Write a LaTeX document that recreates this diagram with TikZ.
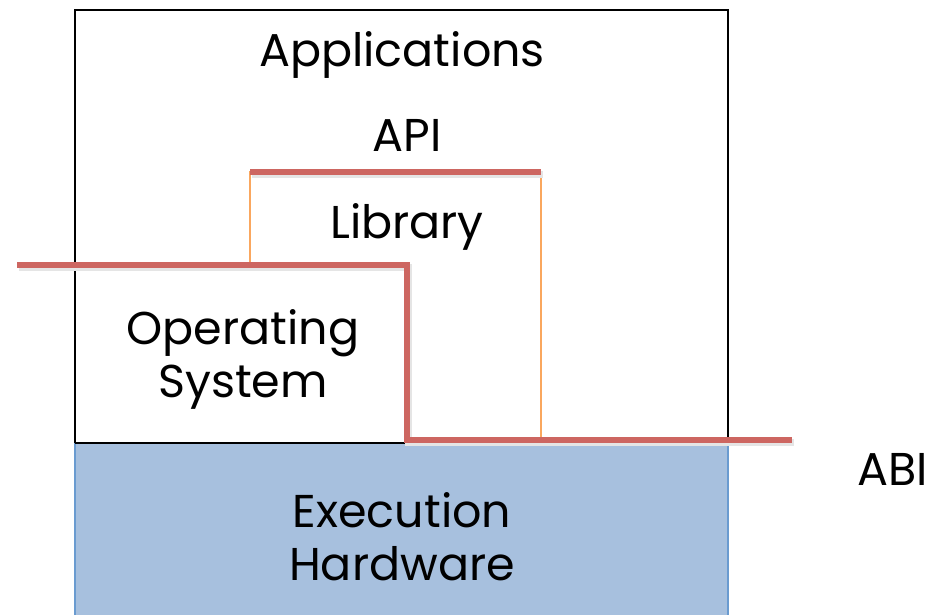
\documentclass[tikz,border=0pt]{standalone}
\usepackage{fontspec}
\setmainfont{Poppins}
\begin{document}
\begin{tikzpicture}[x=1pt,y=-1pt,
  lbl/.style={font=\fontsize{46}{53}\selectfont, align=center, inner sep=0pt, text=black},
  redline/.style={draw=redc, line width=6.5pt},
  shadowline/.style={draw=black!10, line width=7pt},
  libline/.style={draw=orangec, line width=1.6pt}]
\definecolor{redc}{HTML}{CD6661}
\definecolor{orangec}{HTML}{FAA75E}
\definecolor{bluefill}{HTML}{A7C0DE}
\definecolor{blueedge}{HTML}{6A9BD0}
\useasboundingbox (0,0) rectangle (929,614);
% hardware layer
\fill[bluefill] (75,443) rectangle (728,616);
\draw[blueedge, line width=1.4pt] (75,443) -- (75,616);
\draw[blueedge, line width=1.4pt] (728,443) -- (728,616);
% software frame
\draw[black, line width=2pt] (75,443) -- (75,10) -- (728,10) -- (728,443);
\draw[black, line width=2pt] (75,443) -- (407,443);
% library outline
\draw[libline] (250,172) -- (541,172) -- (541,438) -- (410,438) -- (410,265) -- (250,265) -- cycle;
% interface lines
\coordinate (apiL) at (250,172);
\coordinate (apiR) at (541,172);
\coordinate (abiA) at (17,265);
\coordinate (abiB) at (407,265);
\coordinate (abiC) at (407,440);
\coordinate (abiD) at (792,440);
\draw[shadowline] ([shift={(1.5,2.5)}]apiL) -- ([shift={(1.5,2.5)}]apiR);
\draw[shadowline] ([shift={(1.5,2.5)}]abiA) -- ([shift={(1.5,2.5)}]abiB) -- ([shift={(1.5,2.5)}]abiC) -- ([shift={(1.5,2.5)}]abiD);
\draw[redline] (apiL) -- (apiR);
\draw[redline] (abiA) -- (abiB) -- (abiC) -- (abiD);
% labels
\node[lbl] (app) at (402,55) {Applications};
\node[lbl] (api) at (407,135) {API};
\node[lbl] (lib) at (407,227) {Library};
\node[lbl] (os) at (243,359) {Operating\\System};
\node[lbl] (hw) at (402,537) {Execution\\Hardware};
\node[lbl] (abi) at (893,469) {ABI};
\end{tikzpicture}
\end{document}
